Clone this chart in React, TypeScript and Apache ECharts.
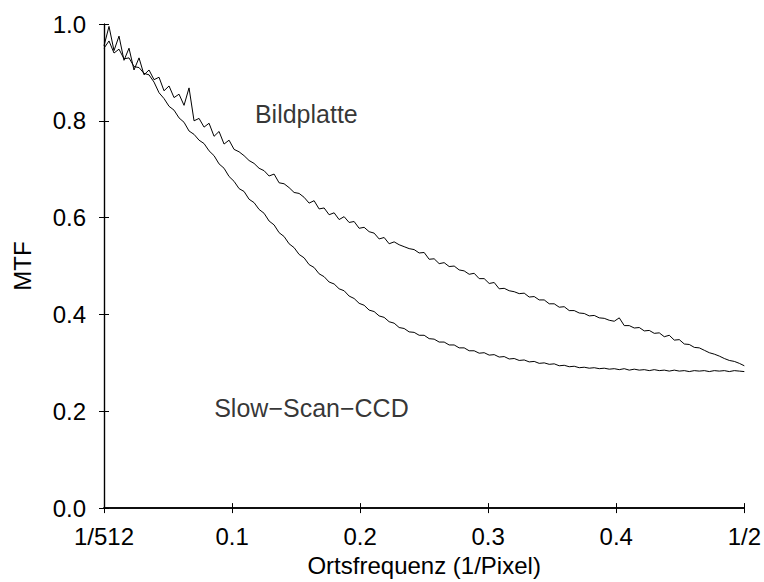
import React, { useEffect, useRef } from "react";
import * as echarts from "echarts";

// Spatial frequency step: one sample per 1/256 cycles/pixel, from 0 up to 1/2
const FREQ_STEP = 1 / 256;

const X_TICK_LABELS: Record<string, string> = {
  "0": "1/512",
  "0.1": "0.1",
  "0.2": "0.2",
  "0.3": "0.3",
  "0.4": "0.4",
  "0.5": "1/2",
};

const bildplatte = [
  0.955, 0.995, 0.945, 0.975, 0.925, 0.950, 0.905, 0.930, 0.895, 0.905,
  0.885, 0.890, 0.862, 0.872, 0.848, 0.855, 0.832, 0.868, 0.800, 0.805,
  0.787, 0.795, 0.768, 0.778, 0.752, 0.760, 0.741, 0.736, 0.728, 0.718,
  0.712, 0.702, 0.697, 0.686, 0.690, 0.672, 0.670, 0.662, 0.652, 0.650,
  0.642, 0.630, 0.635, 0.618, 0.620, 0.606, 0.610, 0.596, 0.602, 0.590,
  0.592, 0.578, 0.580, 0.571, 0.568, 0.556, 0.559, 0.546, 0.550, 0.544,
  0.540, 0.536, 0.534, 0.527, 0.528, 0.514, 0.515, 0.505, 0.507, 0.499,
  0.500, 0.492, 0.490, 0.483, 0.485, 0.474, 0.474, 0.464, 0.466, 0.453,
  0.454, 0.449, 0.447, 0.443, 0.444, 0.436, 0.437, 0.430, 0.430, 0.422,
  0.422, 0.415, 0.416, 0.408, 0.408, 0.403, 0.402, 0.397, 0.398, 0.393,
  0.392, 0.388, 0.386, 0.393, 0.377, 0.377, 0.372, 0.373, 0.366, 0.367,
  0.361, 0.362, 0.354, 0.357, 0.347, 0.348, 0.339, 0.338, 0.332, 0.331,
  0.326, 0.321, 0.318, 0.314, 0.309, 0.305, 0.303, 0.299, 0.294,
];

const slowScanCCD = [
  0.950, 0.965, 0.940, 0.948, 0.928, 0.930, 0.912, 0.910, 0.898, 0.895,
  0.880, 0.858, 0.846, 0.830, 0.822, 0.806, 0.797, 0.779, 0.772, 0.760,
  0.753, 0.738, 0.728, 0.711, 0.702, 0.685, 0.675, 0.660, 0.654, 0.638,
  0.631, 0.617, 0.609, 0.593, 0.585, 0.569, 0.561, 0.546, 0.538, 0.524,
  0.517, 0.503, 0.497, 0.484, 0.478, 0.467, 0.463, 0.453, 0.449, 0.438,
  0.433, 0.423, 0.419, 0.409, 0.406, 0.397, 0.394, 0.385, 0.382, 0.373,
  0.371, 0.364, 0.363, 0.357, 0.357, 0.350, 0.349, 0.343, 0.343, 0.337,
  0.337, 0.331, 0.331, 0.325, 0.325, 0.320, 0.321, 0.316, 0.317, 0.312,
  0.313, 0.308, 0.309, 0.305, 0.306, 0.302, 0.303, 0.299, 0.300, 0.297,
  0.298, 0.294, 0.295, 0.292, 0.293, 0.290, 0.291, 0.289, 0.290, 0.288,
  0.289, 0.287, 0.288, 0.286, 0.288, 0.285, 0.287, 0.285, 0.286, 0.284,
  0.286, 0.284, 0.285, 0.283, 0.285, 0.283, 0.284, 0.282, 0.284, 0.283,
  0.284, 0.282, 0.284, 0.283, 0.284, 0.282, 0.284, 0.283, 0.282,
];

// Curve annotations: [label, frequency, MTF]
const annotations: [string, number, number][] = [
  ["Bildplatte", 0.158, 0.814],
  ["Slow\u2212Scan\u2212CCD", 0.162, 0.207],
];

const FONT = "'Liberation Sans', Arial, Helvetica, sans-serif";

export default function App() {
  const ref = useRef<HTMLDivElement>(null);

  useEffect(() => {
    document.body.style.margin = "0";
    if (!ref.current) return;
    const chart = echarts.init(ref.current, undefined, { renderer: "svg" });

    const toPairs = (arr: number[]) => arr.map((v, i) => [i * FREQ_STEP, v]);

    const axisLineX = { show: true, lineStyle: { color: "#000", width: 1.5 } };
    const axisLineY = { show: true, lineStyle: { color: "#000", width: 1.2 } };
    const tick = { show: true, inside: true, length: 5, lineStyle: { color: "#000", width: 1 } };
    const labelStyle = { color: "#000", fontSize: 24, fontFamily: FONT };

    chart.setOption({
      animation: false,
      backgroundColor: "#fff",
      grid: { left: 104, right: 18, top: 24, bottom: 69, containLabel: false },
      xAxis: [
        {
          type: "value",
          min: 0,
          max: 0.5,
          interval: 0.1,
          position: "bottom",
          axisLine: axisLineX,
          axisTick: tick,
          splitLine: { show: false },
          axisLabel: {
            ...labelStyle,
            margin: 16,
            formatter: (v: number) => X_TICK_LABELS[String(+v.toFixed(1))] ?? v.toFixed(1),
          },
          name: "Ortsfrequenz (1/Pixel)",
          nameLocation: "middle",
          nameGap: 44,
          nameTextStyle: labelStyle,
        },
        {
          type: "value",
          min: 0,
          max: 0.5,
          interval: 0.1,
          position: "top",
          axisLine: axisLineX,
          axisTick: tick,
          splitLine: { show: false },
          axisLabel: { show: false },
        },
      ],
      yAxis: [
        {
          type: "value",
          min: 0,
          max: 1,
          interval: 0.2,
          position: "left",
          axisLine: axisLineY,
          axisTick: tick,
          splitLine: { show: false },
          axisLabel: {
            ...labelStyle,
            margin: 18,
            formatter: (v: number) => v.toFixed(1),
          },
          name: "MTF",
          nameLocation: "middle",
          nameGap: 70,
          nameTextStyle: labelStyle,
        },
        {
          type: "value",
          min: 0,
          max: 1,
          interval: 0.2,
          position: "right",
          axisLine: axisLineY,
          axisTick: tick,
          splitLine: { show: false },
          axisLabel: { show: false },
        },
      ],
      series: [
        {
          name: "Bildplatte",
          type: "line",
          data: toPairs(bildplatte),
          showSymbol: false,
          lineStyle: { color: "#000", width: 1 },
          xAxisIndex: 0,
          yAxisIndex: 0,
        },
        {
          name: "Slow-Scan-CCD",
          type: "line",
          data: toPairs(slowScanCCD),
          showSymbol: false,
          lineStyle: { color: "#000", width: 1 },
          xAxisIndex: 0,
          yAxisIndex: 0,
        },
        {
          name: "labels",
          type: "scatter",
          symbolSize: 0,
          silent: true,
          data: annotations.map(([n, x, y]) => ({ name: n, value: [x, y] })),
          label: {
            show: true,
            position: "inside",
            formatter: (p: any) => p.name,
            color: "#000",
            fontSize: 25,
            fontFamily: FONT,
          },
        },
      ],
    });

    return () => chart.dispose();
  }, []);

  return <div ref={ref} style={{ width: 764, height: 582 }} />;
}
